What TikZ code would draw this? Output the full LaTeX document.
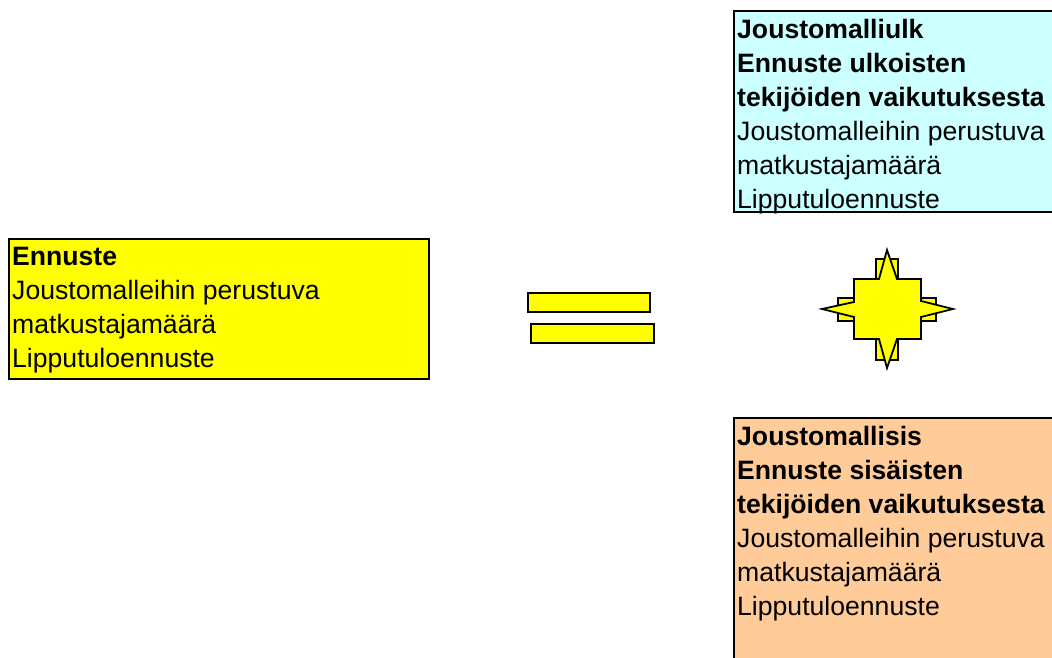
\documentclass[tikz,border=0pt]{standalone}
\usepackage{fontspec}
\setmainfont{Liberation Sans}
\definecolor{enn_yellow}{RGB}{255, 255, 0}
\definecolor{ulk_cyan}{RGB}{204, 255, 255}
\definecolor{sis_orange}{RGB}{255, 204, 153}
\tikzstyle{lbox}=[rectangle,draw=black,line width=1.6pt,inner sep=0pt,anchor=north west]
\tikzstyle{txt}=[anchor=north west,align=left,inner xsep=4pt,inner ysep=9pt,
  font=\fontsize{26.6}{34}\selectfont]
\tikzstyle{bar}=[rectangle,fill=enn_yellow,draw=black,line width=1.8pt,inner sep=0pt,
  anchor=north west,minimum height=19pt]

\begin{document}
\begin{tikzpicture}[x=1pt,y=-1pt]
        \clip (0,0) rectangle (1052,658);
        \fill [white] (0,0) rectangle (1052,658);
        % left box
        \node [style=lbox,fill=enn_yellow,minimum width=420pt,minimum height=140pt] (enn) at (8,238) {};
        \node [style=txt] (enntxt) at (enn.north west) {\textbf{Ennuste}\\Joustomalleihin perustuva\\matkustajamäärä\\Lipputuloennuste};
        % equals sign
        \node [style=bar,minimum width=122pt] (eq1) at (527,292) {};
        \node [style=bar,minimum width=123pt] (eq2) at (530,323) {};
        % star
        \begin{scope}[shift={(887,309)},fill=enn_yellow,line width=1.8pt]
        \filldraw (-11,-50) rectangle (11,51);
        \filldraw (-49,-11) rectangle (49,12);
        \filldraw (-33,-30) -- (-8,-30) -- (0,-59) -- (10,-30) -- (34,-30) -- (34,-8)
          -- (66,0) -- (34,8) -- (34,30) -- (10,30) -- (0,59) -- (-8,30) -- (-33,30)
          -- (-33,8) -- (-65,0) -- (-33,-7) -- cycle;
        \end{scope}
        % right boxes
        \node [style=lbox,fill=ulk_cyan,minimum width=340pt,minimum height=201pt] (ulk) at (733,10) {};
        \node [style=txt] (ulktxt) at (ulk.north west) {\textbf{Joustomalliulk}\\\textbf{Ennuste ulkoisten}\\\textbf{tekijöiden vaikutuksesta}\\Joustomalleihin perustuva\\matkustajamäärä\\Lipputuloennuste};
        \node [style=lbox,fill=sis_orange,minimum width=340pt,minimum height=260pt] (sis) at (733,417) {};
        \node [style=txt] (sistxt) at (sis.north west) {\textbf{Joustomallisis}\\\textbf{Ennuste sisäisten}\\\textbf{tekijöiden vaikutuksesta}\\Joustomalleihin perustuva\\matkustajamäärä\\Lipputuloennuste};
    \end{tikzpicture}
\end{document}
